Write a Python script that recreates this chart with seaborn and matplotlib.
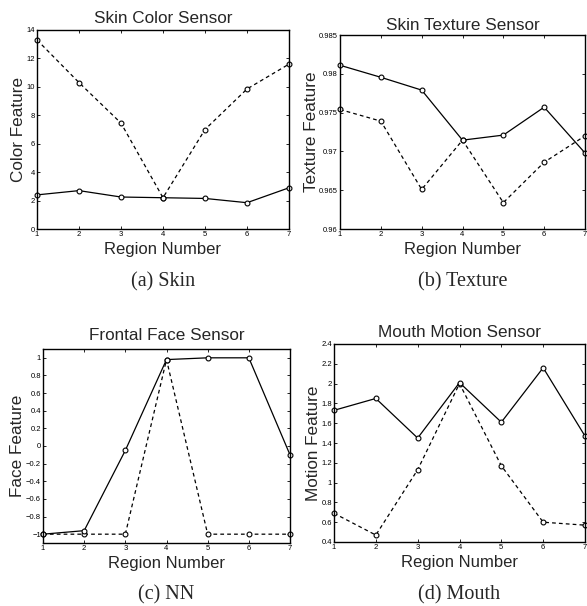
import matplotlib
matplotlib.use("Agg")
import matplotlib.pyplot as plt
import seaborn as sns
import numpy as np
import pandas as pd

sns.set_style("white")
plt.rcParams['font.family'] = ['Liberation Sans', 'DejaVu Sans']

regions = [1, 2, 3, 4, 5, 6, 7]

skin_solid = [2.4, 2.7, 2.25, 2.2, 2.15, 1.85, 2.9]
skin_dashed = [13.3, 10.3, 7.45, 2.2, 7.0, 9.85, 11.6]

texture_solid = [0.9811, 0.97955, 0.9779, 0.97145, 0.9721, 0.9757, 0.9698]
texture_dashed = [0.9754, 0.9739, 0.9651, 0.97145, 0.9634, 0.9686, 0.9720]

face_solid = [-1.0, -0.96, -0.05, 0.98, 1.0, 1.0, -0.1]
face_dashed = [-1.0, -1.0, -1.0, 0.98, -1.0, -1.0, -1.0]

mouth_solid = [1.73, 1.85, 1.45, 2.01, 1.61, 2.16, 1.47]
mouth_dashed = [0.69, 0.47, 1.13, 2.0, 1.17, 0.60, 0.57]

titles = ["Skin Color Sensor", "Skin Texture Sensor", "Frontal Face Sensor", "Mouth Motion Sensor"]
ylabels = ["Color Feature", "Texture Feature", "Face Feature", "Motion Feature"]
captions = ["(a) Skin", "(b) Texture", "(c) NN", "(d) Mouth"]
ylims = [(0, 14), (0.96, 0.985), (-1.1, 1.1), (0.4, 2.4)]
yticks = [
    [0, 2, 4, 6, 8, 10, 12, 14],
    [0.96, 0.965, 0.97, 0.975, 0.98, 0.985],
    [-1, -0.8, -0.6, -0.4, -0.2, 0, 0.2, 0.4, 0.6, 0.8, 1],
    [0.4, 0.6, 0.8, 1, 1.2, 1.4, 1.6, 1.8, 2, 2.2, 2.4],
]
yticklabels = [
    ["0", "2", "4", "6", "8", "10", "12", "14"],
    ["0.96", "0.965", "0.97", "0.975", "0.98", "0.985"],
    ["\u22121", "\u22120.8", "\u22120.6", "\u22120.4", "\u22120.2", "0", "0.2", "0.4", "0.6", "0.8", "1"],
    ["0.4", "0.6", "0.8", "1", "1.2", "1.4", "1.6", "1.8", "2", "2.2", "2.4"],
]
series = [
    (skin_solid, skin_dashed),
    (texture_solid, texture_dashed),
    (face_solid, face_dashed),
    (mouth_solid, mouth_dashed),
]

W, H = 587, 606
fig = plt.figure(figsize=(W / 100, H / 100), dpi=100)
boxes = [
    (37, 30, 289, 229),
    (340, 35, 585, 229),
    (43, 349, 290, 543),
    (334, 344, 585, 542),
]
title_pads = [5, 3.6, 6.5, 5]
caption_y = [282, 282, 595, 595]

for i, (l, t, r, b) in enumerate(boxes):
    ax = fig.add_axes([l / W, 1 - b / H, (r - l) / W, (b - t) / H])
    solid, dashed = series[i]
    df = pd.DataFrame({"Region": regions, "solid": solid, "dashed": dashed})
    sns.lineplot(data=df, x="Region", y="dashed", ax=ax, color="black", lw=0.9,
                 linestyle=(0, (3, 2.5)), marker="o", markersize=3.5,
                 markerfacecolor="white", markeredgecolor="black", markeredgewidth=0.8,
                 clip_on=False)
    sns.lineplot(data=df, x="Region", y="solid", ax=ax, color="black", lw=0.9,
                 marker="o", markersize=3.5,
                 markerfacecolor="white", markeredgecolor="black", markeredgewidth=0.8,
                 clip_on=False)
    ax.set_xlim(1, 7)
    ax.set_ylim(*ylims[i])
    ax.set_xticks(regions)
    ax.set_xticklabels([str(x) for x in regions])
    ax.set_yticks(yticks[i])
    ax.set_yticklabels(yticklabels[i])
    ax.tick_params(direction="in", length=2.5, width=0.6, labelsize=5.5, pad=1.5,
                   top=True, right=True, bottom=True, left=True, colors="black")
    for s in ax.spines.values():
        s.set_color("black")
        s.set_linewidth(1.0)
    ax.set_title(titles[i], fontsize=12.3, pad=title_pads[i])
    ax.set_xlabel("Region Number", fontsize=12, labelpad=2.5)
    ax.set_ylabel(ylabels[i], fontsize=12.3, labelpad=0.3)
    fig.text((l + r) / 2 / W, 1 - caption_y[i] / H, captions[i], ha="center", va="center",
             fontsize=14.5, family=["Liberation Serif", "DejaVu Serif"])

fig.savefig("out.png", dpi=100)
